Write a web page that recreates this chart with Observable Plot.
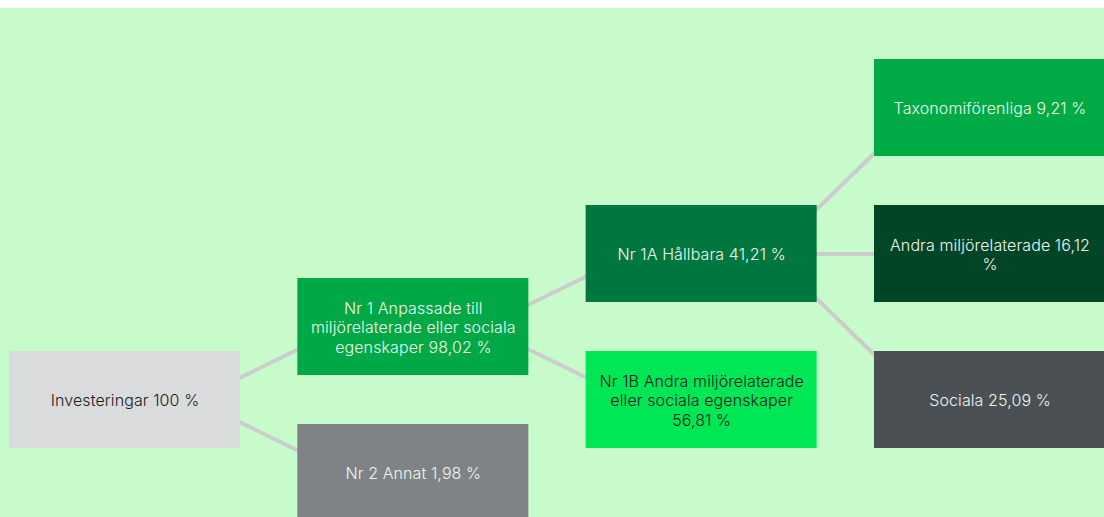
<!DOCTYPE html>
<html>
<head>
<meta charset="utf-8">
<script src="https://cdn.jsdelivr.net/npm/d3@7"></script>
<script src="https://cdn.jsdelivr.net/npm/@observablehq/plot@0.6"></script>
<style>
  html, body { margin: 0; padding: 0; background: #ffffff; }
  #wrap { margin-top: 8px; width: 1104px; height: 509px; background: #c8fbcc; overflow: hidden; }
  #wrap svg { display: block; }
</style>
</head>
<body>
<div id="wrap"></div>
<script>
// ---- data ----
const nodeIds    = ["inv", "nr1", "nr2", "nr1a", "nr1b", "tax", "andra", "soc"];
const nodeLabels = [
  "Investeringar 100 %",
  "Nr 1 Anpassade till\nmiljörelaterade eller sociala\negenskaper 98,02 %",
  "Nr 2 Annat 1,98 %",
  "Nr 1A Hållbara 41,21 %",
  "Nr 1B Andra miljörelaterade\neller sociala egenskaper\n56,81 %",
  "Taxonomiförenliga 9,21 %",
  "Andra miljörelaterade 16,12\n%",
  "Sociala 25,09 %"
];
const nodeParents = [null, "inv", "inv", "nr1", "nr1", "nr1a", "nr1a", "nr1a"];
const nodeLevels  = [0, 1, 1, 2, 2, 3, 3, 3];   // tree depth (column)
const nodeSlots   = [4, 3, 5, 2, 4, 0, 2, 4];   // grid row slot (top = 0)

// ---- build tables ----
const nodes = nodeIds.map((id, i) => ({
  id, label: nodeLabels[i], parent: nodeParents[i], level: nodeLevels[i], slot: nodeSlots[i]
}));
const byId = new Map(nodes.map(d => [d.id, d]));
const links = nodes.filter(d => d.parent).map(d => ({source: byId.get(d.parent), target: d}));

const fills = {
  inv: "#dadbdd", nr1: "#00a846", nr2: "#7f8386", nr1a: "#00773f",
  nr1b: "#00e756", tax: "#00ab45", andra: "#004526", soc: "#4b5055"
};
const darkText = new Set(["inv", "nr1b"]);

const HW = 0.4006;   // half box width in column units
const HH = 0.6644;   // half box height in row units
const LINK_IN = 0.24;

const chart = Plot.plot({
  width: 1104,
  height: 509,
  marginLeft: 124.5,
  marginRight: 114.5,
  marginTop: 99.5,
  marginBottom: 44.5,
  x: {domain: [0, 3], axis: null},
  y: {domain: [0, 5], axis: null, reverse: true},
  style: {background: "#c8fbcc", fontFamily: "Inter, 'Noto Sans', sans-serif", overflow: "visible"},
  marks: [
    Plot.link(links, {
      x1: d => d.source.level + LINK_IN,
      y1: d => d.source.slot,
      x2: d => d.target.level - LINK_IN,
      y2: d => d.target.slot,
      stroke: "#cccccc",
      strokeWidth: 4
    }),
    Plot.rect(nodes, {
      x1: d => d.level - HW,
      x2: d => d.level + HW,
      y1: d => d.slot - HH,
      y2: d => d.slot + HH,
      fill: d => fills[d.id]
    }),
    Plot.text(nodes, {
      x: "level",
      y: "slot",
      text: "label",
      fill: d => darkText.has(d.id) ? "#1c1c1c" : "#eef6f0",
      fontSize: 16,
      lineHeight: 1.22,
      textAnchor: "middle",
      lineAnchor: "middle",
      fontWeight: 300
    })
  ]
});
chart.style.letterSpacing = "0.1px";
document.getElementById("wrap").appendChild(chart);
</script>
</body>
</html>
